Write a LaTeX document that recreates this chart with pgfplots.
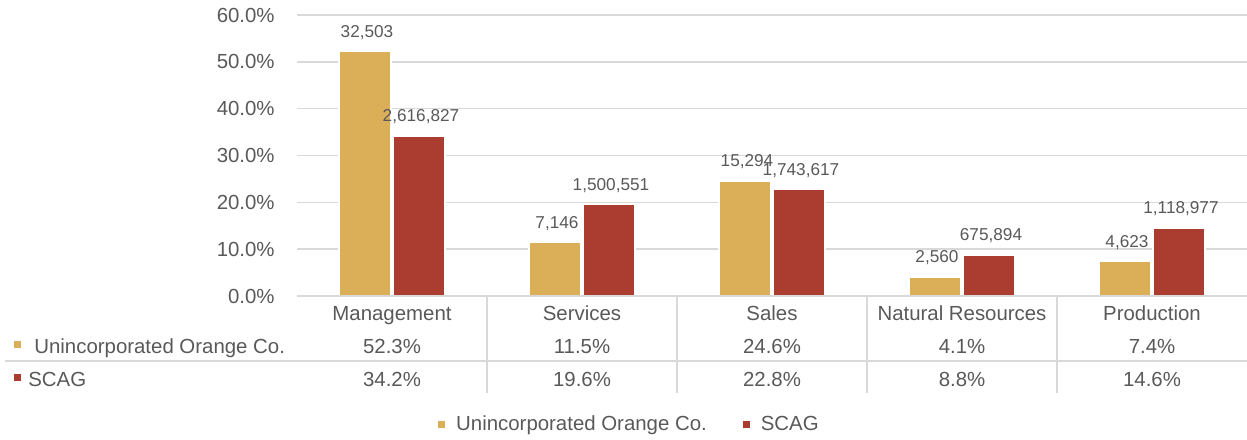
\documentclass[border=0pt]{standalone}
\usepackage{fontspec}
\setmainfont{Liberation Sans}
\usepackage{pgfplots}
\pgfplotsset{compat=1.18}

\definecolor{uoc}{HTML}{DBAE58}
\definecolor{scag}{HTML}{AB3D30}
\definecolor{gridc}{HTML}{D9D9D9}
\definecolor{txt}{HTML}{595959}

\newcommand\tabfont{\fontsize{10.2}{12}\selectfont}
\newcommand\lblfont{\fontsize{8.6}{10}\selectfont}

\pgfplotstableread{
x y lab
0 52.3 32,503
1 11.5 7,146
2 24.6 15,294
3 4.1 2,560
4 7.4 4,623
}\uoctab
\pgfplotstableread{
x y lab
0 34.2 2,616,827
1 19.6 1,500,551
2 22.8 1,743,617
3 8.8 675,894
4 14.6 1,118,977
}\scagtab

\begin{document}
\begin{tikzpicture}
\begin{axis}[
  name=ax,
  scale only axis,
  width=475pt, height=140.5pt,
  ymin=0, ymax=60,
  xmin=-0.5, xmax=4.5,
  ybar=1pt, bar width=26pt,
  legend image code/.code={\fill[#1,draw=none] (0pt,-1.75pt) rectangle (3.5pt,1.75pt);},
  axis line style={draw=none},
  ymajorgrids, grid style={gridc, line width=0.75pt},
  ytick={0,10,...,60},
  yticklabel={\pgfmathprintnumber[fixed,fixed zerofill,precision=1]{\tick}\%},
  /pgf/number format/assume math mode=true,
  yticklabel style={font=\tabfont, text=txt, anchor=east, inner sep=0pt, xshift=-11pt},
  xtick={0,...,4},
  xticklabels={Management,Services,Sales,Natural Resources,Production},
  xticklabel style={font=\tabfont, text=txt, anchor=base, inner sep=0pt, yshift=-12pt},
  major tick length=0pt,
  clip=false,
  nodes near coords,
  point meta=explicit symbolic,
  every node near coord/.append style={font=\lblfont, text=txt, anchor=base, inner sep=0pt, yshift=7pt, xshift=1pt},
  legend style={at={(0.351,-0.459)}, anchor=center, draw=none, fill=none,
    font=\tabfont, text=txt, legend columns=2,
    /tikz/every odd column/.append style={column sep=3.5pt},
    /tikz/every even column/.append style={column sep=16pt}},
]
\addplot[fill=uoc, draw=white, line width=1pt] table[x=x, y=y, meta=lab] {\uoctab};
\addplot[fill=scag, draw=white, line width=1pt] table[x=x, y=y, meta=lab] {\scagtab};
\legend{Unincorporated Orange Co., SCAG}

% axis line and data table grid
\draw[gridc, line width=0.75pt] (rel axis cs:0,0) -- (rel axis cs:1,0);
\draw[gridc, line width=0.75pt] ([xshift=-146pt,yshift=-32.5pt]rel axis cs:0,0) -- ([yshift=-32.5pt]rel axis cs:1,0);
\pgfplotsinvokeforeach{0.5,1.5,2.5,3.5}{
  \draw[gridc, line width=0.75pt] (axis cs:#1,0) -- ([yshift=-48.5pt]axis cs:#1,0);
}

% row headers
\fill[uoc] ([xshift=-141.5pt,yshift=-22.25pt]rel axis cs:0,0) rectangle ([xshift=-138pt,yshift=-25.75pt]rel axis cs:0,0);
\fill[scag] ([xshift=-141.5pt,yshift=-38.75pt]rel axis cs:0,0) rectangle ([xshift=-138pt,yshift=-42.25pt]rel axis cs:0,0);
\node[font=\tabfont, text=txt, anchor=base west, inner sep=0pt] at ([xshift=-131.5pt,yshift=-28.5pt]rel axis cs:0,0) {Unincorporated Orange Co.};
\node[font=\tabfont, text=txt, anchor=base west, inner sep=0pt] at ([xshift=-134.5pt,yshift=-45pt]rel axis cs:0,0) {SCAG};

% table values
\node[font=\tabfont, text=txt, anchor=base, inner sep=0pt] at ([yshift=-28.5pt]axis cs:0,0) {52.3\%};
\node[font=\tabfont, text=txt, anchor=base, inner sep=0pt] at ([yshift=-28.5pt]axis cs:1,0) {11.5\%};
\node[font=\tabfont, text=txt, anchor=base, inner sep=0pt] at ([yshift=-28.5pt]axis cs:2,0) {24.6\%};
\node[font=\tabfont, text=txt, anchor=base, inner sep=0pt] at ([yshift=-28.5pt]axis cs:3,0) {4.1\%};
\node[font=\tabfont, text=txt, anchor=base, inner sep=0pt] at ([yshift=-28.5pt]axis cs:4,0) {7.4\%};
\node[font=\tabfont, text=txt, anchor=base, inner sep=0pt] at ([yshift=-45pt]axis cs:0,0) {34.2\%};
\node[font=\tabfont, text=txt, anchor=base, inner sep=0pt] at ([yshift=-45pt]axis cs:1,0) {19.6\%};
\node[font=\tabfont, text=txt, anchor=base, inner sep=0pt] at ([yshift=-45pt]axis cs:2,0) {22.8\%};
\node[font=\tabfont, text=txt, anchor=base, inner sep=0pt] at ([yshift=-45pt]axis cs:3,0) {8.8\%};
\node[font=\tabfont, text=txt, anchor=base, inner sep=0pt] at ([yshift=-45pt]axis cs:4,0) {14.6\%};
\end{axis}
\pgfresetboundingbox
\path[use as bounding box] ([xshift=-148.5pt,yshift=-71.5pt]ax.south west) rectangle ([yshift=7.5pt]ax.north east);
\end{tikzpicture}
\end{document}
